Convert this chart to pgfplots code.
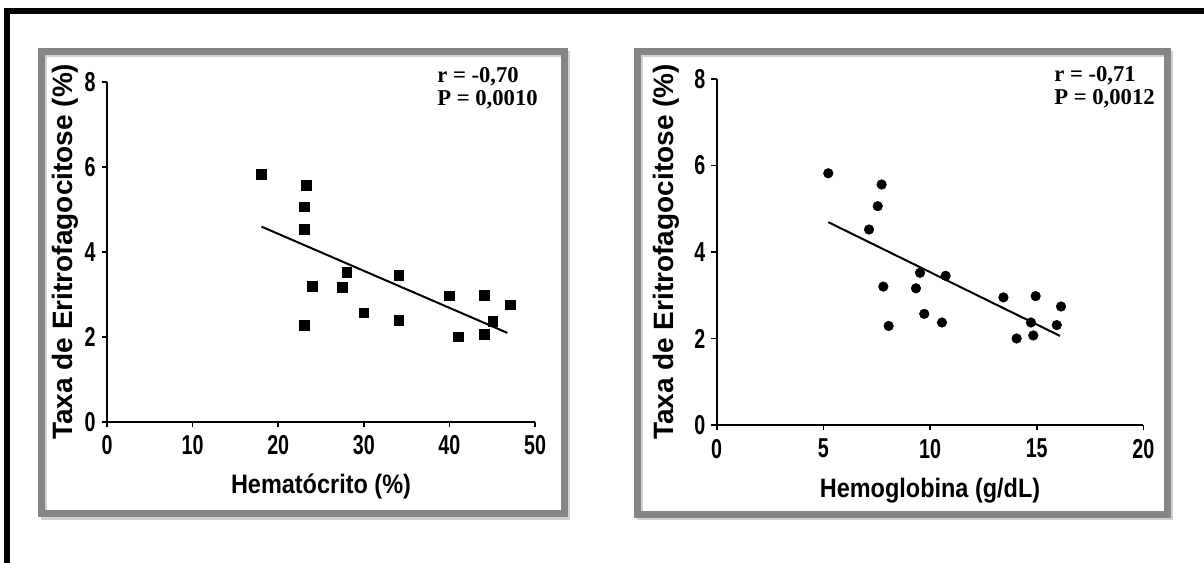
\documentclass[border=0pt]{standalone}
\usepackage{fontspec}
\setmainfont{Liberation Sans}
\newfontfamily\tickfont[FakeStretch=0.72]{Liberation Sans}
\newfontfamily\labfont[FakeStretch=0.88]{Liberation Sans}
\newfontfamily\annfont{Liberation Serif}
\usepackage{pgfplots}
\pgfplotsset{compat=1.18}
\definecolor{framegray}{HTML}{858585}

\pgfplotsset{prism/.style={
  scale only axis, axis lines=left, clip=false,
  axis line style={-, line width=1.5pt},
  every tick/.style={black, line width=1.3pt},
  tick align=outside, major tick length=4pt,
  ymin=0, ymax=8, ytick={0,2,4,6,8},
  /pgf/number format/assume math mode=true,
  tick label style={font=\tickfont\bfseries\fontsize{20.5}{20.5}\selectfont},
  xticklabel style={yshift=-3pt},
  yticklabel style={xshift=-1pt},
  xlabel style={font=\labfont\bfseries\fontsize{20}{22}\selectfont},
  ylabel style={font=\bfseries\fontsize{21}{22}\selectfont},
  ylabel={Taxa de Eritrofagocitose (\%)},
}}

\begin{document}
\begin{tikzpicture}[x=0.75pt,y=0.75pt]
\path[use as bounding box] (0,0) rectangle (1204,563);
\coordinate (o1) at (107,141.3);
\coordinate (o2) at (716.7,138);
% black border, top and left
\fill[black] (4,549) rectangle (1204,554.7);
\fill[black] (4,0) rectangle (10,554.7);
% panel frames with shadow
\draw[gray!35,line width=5] (44,46) rectangle (567,509);
\draw[framegray,line width=5] (41.5,49.5) rectangle (564.5,511.5);
\draw[gray!35,line width=5] (640,46) rectangle (1170,509);
\draw[framegray,line width=5] (637.5,48.5) rectangle (1167.5,511.5);

\begin{axis}[prism, at={(o1)}, anchor=south west,
  width=321pt, height=255pt,
  xmin=0, xmax=50, xtick={0,10,20,30,40,50},
  xlabel={Hematócrito (\%)},
  xlabel style={at={(axis description cs:0.5,-0.192)},anchor=center},
  ylabel style={at={(axis description cs:-0.098,0.5)},anchor=center}]
\addplot[only marks, mark=square*, mark size=3.6pt, black] coordinates {
(18.05,5.82)(23.27,5.57)(23.07,5.06)(23.07,4.53)(28.0,3.52)(24.0,3.19)
(27.5,3.16)(34.1,3.45)(30.0,2.56)(34.1,2.38)(23.07,2.27)(40.0,2.96)
(44.05,2.98)(47.08,2.75)(45.06,2.37)(44.05,2.06)(41.05,2.0)};
\addplot[black, line width=1.5pt] coordinates {(18.05,4.59)(46.77,2.09)};
\end{axis}

\begin{axis}[prism, at={(o2)}, anchor=south west,
  width=320pt, height=259.5pt,
  xmin=0, xmax=20, xtick={0,5,10,15,20},
  xlabel={Hemoglobina (g/dL)},
  xlabel style={at={(axis description cs:0.5,-0.19)},anchor=center},
  ylabel style={at={(axis description cs:-0.117,0.5)},anchor=center}]
\addplot[only marks, mark=*, mark size=3.6pt, black] coordinates {
(5.23,5.82)(7.73,5.56)(7.55,5.06)(7.14,4.52)(9.53,3.52)(10.73,3.45)
(7.81,3.20)(9.34,3.16)(13.44,2.95)(14.95,2.98)(16.14,2.74)(9.73,2.57)
(10.56,2.37)(8.06,2.29)(14.73,2.37)(15.94,2.31)(14.84,2.07)(14.06,2.0)};
\addplot[black, line width=1.5pt] coordinates {(5.23,4.69)(16.09,2.06)};
\end{axis}

% correlation notes
\node[anchor=base west,inner sep=0,font=\annfont\bfseries\fontsize{17}{17}\selectfont] at (437,480) {r = -0,70};
\node[anchor=base west,inner sep=0,font=\annfont\bfseries\fontsize{17}{17}\selectfont] at (437,457) {P = 0,0010};
\node[anchor=base west,inner sep=0,font=\annfont\bfseries\fontsize{17}{17}\selectfont] at (1054,481) {r = -0,71};
\node[anchor=base west,inner sep=0,font=\annfont\bfseries\fontsize{17}{17}\selectfont] at (1054,458) {P = 0,0012};
\end{tikzpicture}
\end{document}
